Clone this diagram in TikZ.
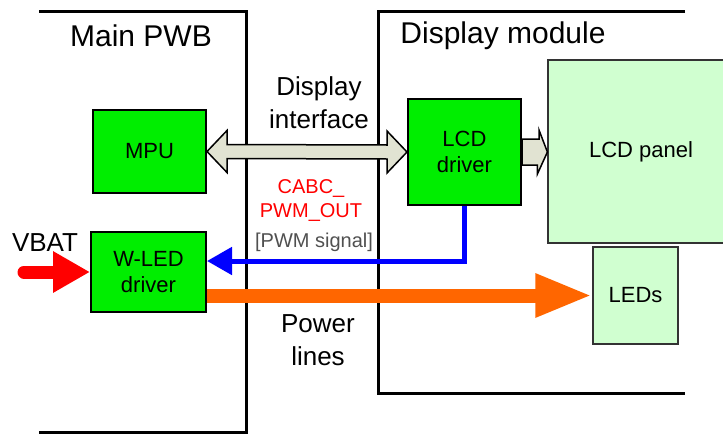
\documentclass[tikz,border=0pt]{standalone}
\usepackage{fontspec}
\setmainfont{Liberation Sans}
\usetikzlibrary{positioning,calc,arrows.meta}
\definecolor{boxgreen}{RGB}{0,238,0}
\definecolor{panelgreen}{RGB}{208,255,208}
\definecolor{ifbeige}{RGB}{225,227,210}
\definecolor{pwrorange}{RGB}{255,102,0}
\definecolor{siggray}{RGB}{80,80,80}
\tikzset{
    boardline/.style={line width=3pt},
    block/.style={draw, line width=2pt, fill=boxgreen, align=center, inner sep=0pt,
        font=\fontsize{22}{26}\selectfont},
    panel/.style={draw=black!80, line width=1.2pt, fill=panelgreen, align=center, inner sep=0pt,
        font=\fontsize{22}{26}\selectfont},
    title/.style={inner sep=0pt, font=\fontsize{30}{34}\selectfont},
    lbl/.style={inner sep=0pt, align=center, font=\fontsize{26}{33}\selectfont}
}

\begin{document}
\begin{tikzpicture}[
    x=1pt, y=-1pt,
    ifarrow/.style={draw, line width=1.5pt, fill=ifbeige, line join=miter},
    sigline/.style={draw=blue, line width=5pt, -{Triangle[length=25pt,width=27pt]}},
    powerline/.style={draw=pwrorange, line width=14pt, -{Triangle[length=57pt,width=40pt]}},
    vbatline/.style={draw=red, line width=13pt, line cap=round, -{Triangle[length=37pt,width=39pt]}}
]
    \useasboundingbox (0,0) rectangle (723,434);

    % board outlines
    \draw[boardline] (39,11) -- (246,11) -- (246,432) -- (39,432);
    \draw[boardline] (685,11) -- (378,11) -- (378,393) -- (685,393);
    \node[title] (pwb) at (141,36) {Main PWB};
    \node[title] (dmod) at (503,36) {Display module};

    % blocks
    \node[block, minimum width=113pt, minimum height=83pt] (mpu) at (149.5,151.5) {MPU};
    \node[block, minimum width=115pt, minimum height=80pt] (wled) at (148.5,272) {W-LED\\driver};
    \node[block, minimum width=113pt, minimum height=106pt] (lcd) at (464.5,152) {LCD\\driver};
    \node[panel, minimum width=186pt, minimum height=183pt] (lcdpanel) at (641,151.5) {LCD panel};
    \node[panel, minimum width=85pt, minimum height=97pt] (leds) at (635.5,295.5) {LEDs};

    % display interface
    \draw[ifarrow] (mpu.east) -- ++(20,-21) -- ++(0,14) -- ($(lcd.west)+(-20,-7)$)
        -- ++(0,-14) -- (lcd.west) -- ++(-20,21) -- ++(0,-14) -- ($(mpu.east)+(20,7)$)
        -- ++(0,14) -- cycle;
    \draw[ifarrow] ($(lcd.east)+(0,-13)$) -- ++(17,0) -- ++(0,-9) -- (lcd.east -| lcdpanel.west)
        -- ++(-10,22) -- ++(0,-9) -- ($(lcd.east)+(0,13)$) -- cycle;

    % PWM signal and power
    \draw[sigline] (lcd.south) |- ($(wled.east)+(0,-11)$);
    \draw[powerline] (wled.east |- leds.west) -- (leds.west);
    \coordinate (vbatin) at (24,272);
    \draw[vbatline] (vbatin) -- (wled.west);

    % labels
    \node[lbl] (iflbl) at (319,103) {Display\\interface};
    \node[inner sep=0pt, align=center, red, font=\fontsize{20}{24}\selectfont] (cabc) at (311,201) {CABC\_\\PWM\_OUT};
    \node[inner sep=0pt, siggray, font=\fontsize{20}{24}\selectfont] (pwmsig) at (314,242) {[PWM signal]};
    \node[lbl] (pwrlbl) at (318,340) {Power\\lines};
    \node[inner sep=0pt, font=\fontsize{26}{30}\selectfont] (vbat) at (45,243) {VBAT};
\end{tikzpicture}
\end{document}
